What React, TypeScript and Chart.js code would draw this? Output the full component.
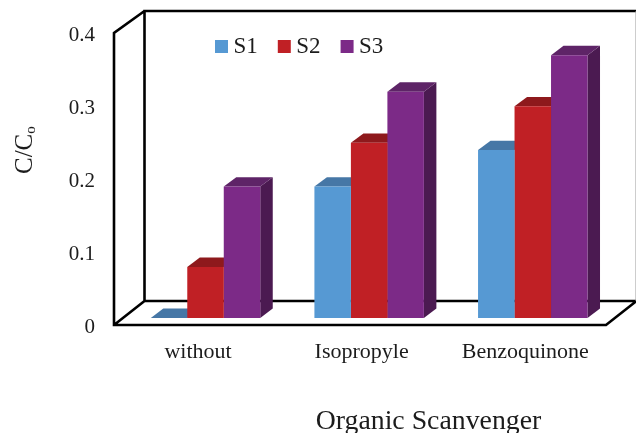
import React, { useEffect, useRef } from "react";
import { Chart, registerables } from "chart.js";

Chart.register(...registerables);

const categories = ["without", "Isopropyle", "Benzoquinone"];
const s1 = [0, 0.18, 0.23];
const s2 = [0.07, 0.24, 0.29];
const s3 = [0.18, 0.31, 0.36];
const yTickLabels = ["0", "0.1", "0.2", "0.3", "0.4"];
const xTitle = "Organic Scanvenger";
const yTitleMain = "C/C";
const yTitleSub = "o";

const SERIF = "'Liberation Serif', serif";
const TEXT = "#1c1c1c";
const FRONT = ["#5699D3", "#C02025", "#7C2A87"];
const TOP = ["#4677A6", "#8E191C", "#5E2467"];
const SIDE = ["#3F6C97", "#7F1518", "#4B1A51"];
const DEPTH_X = 12.5;
const DEPTH_Y = 9.4;

const frame3d = {
  id: "frame3d",
  beforeLayout(chart: any) {
    const l = chart.legend;
    if (l && !l.__wrapped) {
      const fit = l.fit;
      l.fit = function () {
        fit.call(this);
        this.height = 0;
      };
      l.__wrapped = true;
    }
  },
  afterLayout(chart: any) {
    const l = chart.legend;
    if (l) {
      l.left = 195;
      l.right = 636;
      l.top = 9;
      l.bottom = 84;
    }
  },
  beforeDatasetsDraw(chart: any) {
    const { ctx, chartArea, scales } = chart;
    const y0 = scales.y.getPixelForValue(0);
    const yMax = scales.y.getPixelForValue(0.4);
    const fl = chartArea.left - 9.7;
    const fr = chartArea.right - 8.6;
    const fb = y0 + 7;
    const ft = yMax + 7;
    const dx = 30.5;
    const bl = fl + dx;
    const br = fr + dx;
    const bb = fb - 24;
    const bt = ft - 22;
    ctx.save();
    ctx.strokeStyle = "#000";
    ctx.lineWidth = 2.6;
    ctx.lineJoin = "miter";
    ctx.beginPath();
    ctx.moveTo(br, bt);
    ctx.lineTo(bl, bt);
    ctx.lineTo(bl, bb);
    ctx.lineTo(br, bb);
    ctx.moveTo(bl, bt);
    ctx.lineTo(fl, ft);
    ctx.lineTo(fl, fb);
    ctx.lineTo(fr, fb);
    ctx.lineTo(br, bb);
    ctx.moveTo(fl, fb);
    ctx.lineTo(bl, bb);
    ctx.stroke();
    ctx.strokeStyle = "#9a9a9a";
    ctx.lineWidth = 1;
    ctx.beginPath();
    ctx.moveTo(br - 0.5, bt);
    ctx.lineTo(br - 0.5, bb);
    ctx.stroke();
    chart.data.datasets.forEach((_: any, i: number) => {
      chart.getDatasetMeta(i).data.forEach((bar: any) => {
        const half = bar.width / 2;
        const left = bar.x - half;
        const right = bar.x + half;
        ctx.fillStyle = SIDE[i];
        ctx.beginPath();
        ctx.moveTo(right, bar.y);
        ctx.lineTo(right + DEPTH_X, bar.y - DEPTH_Y);
        ctx.lineTo(right + DEPTH_X, bar.base - DEPTH_Y);
        ctx.lineTo(right, bar.base);
        ctx.closePath();
        ctx.fill();
        ctx.fillStyle = TOP[i];
        ctx.beginPath();
        ctx.moveTo(left, bar.y);
        ctx.lineTo(left + DEPTH_X, bar.y - DEPTH_Y);
        ctx.lineTo(right + DEPTH_X, bar.y - DEPTH_Y);
        ctx.lineTo(right, bar.y);
        ctx.closePath();
        ctx.fill();
      });
    });
    ctx.restore();
  },
  afterDraw(chart: any) {
    const { ctx } = chart;
    ctx.save();
    ctx.fillStyle = TEXT;
    ctx.textBaseline = "alphabetic";
    ctx.font = `27.8px ${SERIF}`;
    ctx.textAlign = "center";
    ctx.fillText(xTitle, 428.5, 429);
    ctx.textAlign = "left";
    ctx.translate(31.5, 174);
    ctx.rotate(-Math.PI / 2);
    ctx.font = `25px ${SERIF}`;
    ctx.fillText(yTitleMain, 0, 0);
    const w = ctx.measureText(yTitleMain).width;
    ctx.font = `15px ${SERIF}`;
    ctx.fillText(yTitleSub, w, 3);
    ctx.restore();
  },
};

export default function App() {
  const ref = useRef<HTMLCanvasElement>(null);
  useEffect(() => {
    const chart = new Chart(ref.current as HTMLCanvasElement, {
      type: "bar",
      data: {
        labels: categories,
        datasets: [
          { label: "S1", data: s1, backgroundColor: FRONT[0], borderWidth: 0 },
          { label: "S2", data: s2, backgroundColor: FRONT[1], borderWidth: 0 },
          { label: "S3", data: s3, backgroundColor: FRONT[2], borderWidth: 0 },
        ],
      },
      plugins: [frame3d],
      options: {
        animation: false,
        responsive: false,
        layout: { padding: { top: 26, right: 21.4, left: 0, bottom: 0 } },
        datasets: { bar: { barPercentage: 1, categoryPercentage: 0.669 } },
        plugins: {
          tooltip: { enabled: false },
          legend: {
            position: "top",
            align: "start",
            labels: {
              usePointStyle: true,
              pointStyle: "rect",
              boxWidth: 1,
              boxHeight: 13,
              padding: 26,
              color: TEXT,
              font: { family: SERIF, size: 23 },
            },
          },
        },
        scales: {
          x: {
            grid: { display: false, drawTicks: false },
            border: { display: false },
            afterFit: (s: any) => {
              s.height = 115;
              s.paddingLeft = 0;
              s.paddingRight = 0;
            },
            ticks: {
              autoSkip: false,
              maxRotation: 0,
              padding: 21,
              labelOffset: -7.5,
              color: TEXT,
              font: { family: SERIF, size: 22 },
            },
          },
          y: {
            min: 0,
            max: 0.4,
            grid: { display: false, drawTicks: false },
            border: { display: false },
            afterFit: (s: any) => {
              s.width = 123.7;
              s.paddingTop = 0;
              s.paddingBottom = 0;
            },
            ticks: {
              stepSize: 0.1,
              padding: 28.7,
              labelOffset: 9.5,
              color: TEXT,
              font: { family: SERIF, size: 21 },
              callback: (_: any, i: number) => yTickLabels[i],
            },
          },
        },
      },
    } as any);
    return () => chart.destroy();
  }, []);
  return (
    <canvas
      ref={ref}
      width={636}
      height={433}
      style={{ position: "fixed", left: 0, top: 0, display: "block" }}
    />
  );
}
